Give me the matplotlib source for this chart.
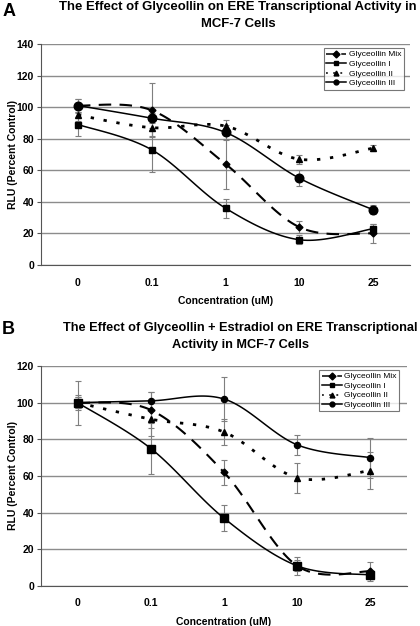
import numpy as np
import matplotlib
matplotlib.use("Agg")
import matplotlib.pyplot as plt
from matplotlib.lines import Line2D

plt.rcParams['font.family'] = ['Liberation Sans', 'DejaVu Sans']

categories = ["0", "0.1", "1", "10", "25"]
series_names = ["Glyceollin Mix", "Glyceollin I", "Glyceollin II", "Glyceollin III"]

# Panel A values
a_mix = [101, 98, 64, 24, 20]
a_mix_err = [4, 17, 16, 4, 6]
a_g1 = [89, 73, 36, 16, 23]
a_g1_err = [7, 14, 6, 3, 3]
a_g2 = [95, 87, 88, 67, 74]
a_g2_err = [4, 5, 4, 3, 2]
a_g3 = [101, 93, 84, 55, 35]
a_g3_err = [4, 3, 5, 5, 3]

# Panel B values
b_mix = [100, 96, 62, 11, 8]
b_mix_err = [3, 10, 7, 5, 5]
b_g1 = [100, 75, 37, 11, 6]
b_g1_err = [12, 14, 7, 3, 2]
b_g2 = [100, 91, 84, 59, 63]
b_g2_err = [3, 9, 7, 8, 10]
b_g3 = [100, 101, 102, 77, 70]
b_g3_err = [4, 5, 12, 5.5, 11]

title_a = "The Effect of Glyceollin on ERE Transcriptional Activity in\nMCF-7 Cells"
title_b = "The Effect of Glyceollin + Estradiol on ERE Transcriptional\nActivity in MCF-7 Cells"


def smooth(xs, ys, n=30):
    xs = np.asarray(xs, float)
    ys = np.asarray(ys, float)
    P = np.column_stack([xs, ys])
    out = []
    for i in range(len(P) - 1):
        p0 = P[i - 1] if i > 0 else P[i]
        p1 = P[i]
        p2 = P[i + 1]
        p3 = P[i + 2] if i + 2 < len(P) else P[i + 1]
        c1 = p1 + (p2 - p0) / 6.0
        c2 = p2 - (p3 - p1) / 6.0
        t = np.linspace(0, 1, n)[:, None]
        seg = ((1 - t) ** 3) * p1 + 3 * ((1 - t) ** 2) * t * c1 + 3 * (1 - t) * t ** 2 * c2 + t ** 3 * p2
        out.append(seg if i == 0 else seg[1:])
    s = np.vstack(out)
    return s[:, 0], s[:, 1]


fig = plt.figure(figsize=(4.2, 6.26), dpi=100)

styles = [
    dict(ls=(0, (6, 4)), lw=1.5, marker='D'),
    dict(ls='-', lw=1.1, marker='s'),
    dict(ls=(0, (1.2, 3.5)), lw=2.0, marker='^'),
    dict(ls='-', lw=1.1, marker='o'),
]


def panel(rect, data, errs, ymax, title, letter, letter_y, title_y, title_x, title_fs,
          msizes, legw):
    ax = fig.add_axes(rect)
    x = np.arange(len(categories))
    for (vals, err, st, ms) in zip(data, errs, styles, msizes):
        ax.errorbar(x, vals, yerr=err, fmt='none', ecolor='#7f7f7f', elinewidth=0.8,
                    capsize=2, capthick=0.8, zorder=2)
        sx, sy = smooth(x, vals)
        ax.plot(sx, sy, color='black', linestyle=st['ls'], lw=st['lw'], zorder=3)
        ax.plot(x, vals, linestyle='none', marker=st['marker'], ms=ms, color='black', zorder=4)
    ax.set_xlim(-0.5, len(categories) - 0.5)
    ax.set_ylim(0, ymax)
    ax.set_yticks(np.arange(0, ymax + 1, 20))
    ax.set_xticks(x)
    ax.set_xticklabels(categories)
    ax.yaxis.grid(True, color='#8c8c8c', lw=1.0)
    ax.set_axisbelow(True)
    for s in ['top', 'right']:
        ax.spines[s].set_visible(False)
    ax.spines['left'].set_color('#555555')
    ax.spines['bottom'].set_color('#555555')
    ax.tick_params(axis='x', length=0, pad=9)
    ax.tick_params(axis='y', length=3, color='#555555', pad=2)
    for lab in ax.get_xticklabels() + ax.get_yticklabels():
        lab.set_fontweight('bold')
        lab.set_fontsize(7.5)
    ax.set_xlabel("Concentration (uM)", fontsize=7.5, fontweight='bold', labelpad=6)
    ax.set_ylabel("RLU (Percent Control)", fontsize=7.5, fontweight='bold')
    ax.yaxis.set_label_coords(-23 / (rect[2] * 420), 0.5)
    handles = [Line2D([0], [0], color='black', linestyle=st['ls'], lw=1.1,
                      marker=st['marker'], ms=3.5) for st in styles]
    leg = ax.legend(handles, series_names, loc='upper right', fontsize=6.0,
                    frameon=True, fancybox=False, edgecolor='#555555',
                    handlelength=2.4, handletextpad=0.3, borderpad=0.3,
                    labelspacing=0.2, bbox_to_anchor=(legw, 1.0))
    leg.get_frame().set_linewidth(0.8)
    fig.text(0.005, letter_y, letter, fontsize=13, fontweight='bold', va='center', ha='left')
    fig.text(title_x, title_y, title, fontsize=title_fs, fontweight='bold', ha='center',
             va='center', linespacing=1.45)
    return ax


panel([41 / 420, 1 - 265 / 626, 369 / 420, 221 / 626],
      [a_mix, a_g1, a_g2, a_g3], [a_mix_err, a_g1_err, a_g2_err, a_g3_err],
      140, title_a, "A", 1 - 12 / 626, 1 - 15.5 / 626, 238 / 420, 9.45,
      [3.5, 3.8, 4.6, 6.2], 0.995)

panel([41 / 420, 1 - 586 / 626, 366 / 420, 220 / 626],
      [b_mix, b_g1, b_g2, b_g3], [b_mix_err, b_g1_err, b_g2_err, b_g3_err],
      120, title_b, "B", 1 - 330 / 626, 1 - 336.5 / 626, 240 / 420, 9.2,
      [3.5, 5.4, 4.6, 4.4], 0.99)

fig.savefig("out.png", dpi=100)
